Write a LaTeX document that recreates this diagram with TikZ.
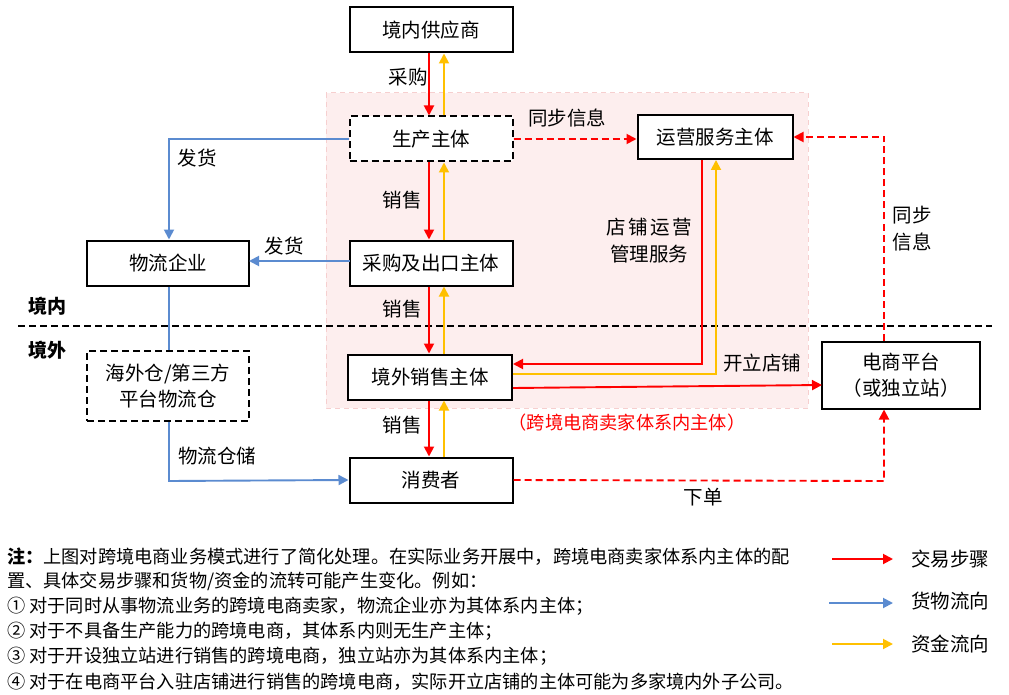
\documentclass[tikz,border=0pt]{standalone}
\usepackage{fontspec}
\setmainfont{Noto Sans CJK SC}
\usetikzlibrary{arrows.meta}
\definecolor{cred}{HTML}{FF0000}
\definecolor{cblue}{HTML}{5B8BD0}
\definecolor{cyel}{HTML}{FFC000}
\definecolor{cpink}{HTML}{FDEEEE}
\definecolor{cpinkb}{HTML}{F6CFCF}
\begin{document}
\begin{tikzpicture}[x=1pt,y=-1pt,
  box/.style={draw=black, line width=2pt, fill=white, inner sep=0pt,
    minimum width=163pt, minimum height=45pt, align=center,
    font=\fontsize{19.5}{26}\selectfont},
  dbox/.style={box, dash pattern=on 7pt off 4pt},
  lbl/.style={inner sep=1pt, font=\fontsize{19.5}{27}\selectfont, align=left},
  note/.style={anchor=west, inner sep=0pt, font=\fontsize{18.2}{20}\selectfont},
  tipx/.style={-{Triangle[length=10pt,width=10pt]}},
  rl/.style={draw=cred, line width=1.9pt},
  yl/.style={draw=cyel, line width=1.9pt},
  bl/.style={draw=cblue, line width=1.9pt},
  rd/.style={rl, dash pattern=on 7pt off 4pt},
]
\useasboundingbox (0,0) rectangle (1009,695);
% pink region
\fill[cpink] (326,93) rectangle (808,408);
\draw[cpinkb, line width=1pt, dash pattern=on 5pt off 4pt] (326,93) rectangle (808,408);
% border line
\draw[black, line width=2pt, dash pattern=on 7pt off 4pt] (18,326) -- (992,326);
\node[font=\bfseries\fontsize{19}{20}\selectfont] (dom) at (47,306) {境内};
\node[font=\bfseries\fontsize{19}{20}\selectfont] (abr) at (47,350) {境外};

% nodes
\node[box] (sup) at (431,30) {境内供应商};
\node[dbox] (prod) at (431,139) {生产主体};
\node[box] (exp) at (431,263) {采购及出口主体};
\node[box, minimum width=164pt] (sale) at (430,377) {境外销售主体};
\node[box] (cons) at (431,480) {消费者};
\node[box, minimum width=155pt, minimum height=44pt] (ops) at (715,137) {运营服务主体};
\node[box, minimum width=158pt, minimum height=67pt] (plat) at (901,375) {电商平台\\（或独立站）};
\node[box, minimum width=162pt] (log) at (168,263) {物流企业};
\node[dbox, minimum width=162pt, minimum height=70pt] (wh) at (168,386) {海外仓/第三方\\平台物流仓};

% coordinates
\coordinate (xr) at (429,0);
\coordinate (xy) at (444,0);
\coordinate (xb) at (169,0);
\coordinate (xo1) at (702,0);
\coordinate (xo2) at (716,0);
\coordinate (xp) at (884,0);

% central column
\draw[rl,tipx] (sup.south -| xr) -- (prod.north -| xr);
\draw[yl,tipx] (prod.north -| xy) -- (sup.south -| xy);
\draw[rl,tipx] (prod.south -| xr) -- (exp.north -| xr);
\draw[yl,tipx] (exp.north -| xy) -- (prod.south -| xy);
\draw[rl,tipx] (exp.south -| xr) -- (sale.north -| xr);
\draw[yl,tipx] (sale.north -| xy) -- (exp.south -| xy);
\draw[rl,tipx] (sale.south -| xr) -- (cons.north -| xr);
\draw[yl,tipx] (cons.north -| xy) -- (sale.south -| xy);

\node[lbl] (l1) at (408,77) {采购};
\node[lbl] (l2) at (402,200) {销售};
\node[lbl] (l3) at (402,309) {销售};
\node[lbl] (l4) at (402,425) {销售};

% prod -> ops
\draw[rd,tipx] (prod.east) -- (prod.east -| ops.west);
\node[lbl] (l5) at (567,118) {同步信息};

% ops <-> sale
\coordinate (c1) at (702,364);
\coordinate (c2) at (716,374);
\draw[rl,tipx] (ops.south -| xo1) -- (c1) -- (c1 -| sale.east);
\draw[yl,tipx] (c2 -| sale.east) -- (c2) -- (ops.south -| xo2);
\node[lbl, align=center] (l6) at (649,241) {店\hspace{2.5pt}铺\hspace{2.5pt}运\hspace{2.5pt}营\\管理服务};

% sale -> plat
\coordinate (c3) at (513,388);
\coordinate (c4) at (822,385);
\draw[rl,tipx] (c3) -- (c4);
\node[lbl] (l7) at (762,363) {开立店铺};

% plat -> ops
\coordinate (c5) at (884,137);
\draw[rd,tipx] (plat.north -| xp) -- (c5) -- (ops.east);
\node[lbl, align=left] (l8) at (912,229) {同步\\信息};

% cons -> plat
\coordinate (c6) at (884,481);
\draw[rd,tipx] (cons.east) -- (c6) -- (plat.south -| xp);
\node[lbl] (l9) at (703,497) {下单};

% blue
\coordinate (b1) at (169,139);
\draw[bl,tipx] (prod.west) -- (b1) -- (log.north -| xb);
\node[lbl] (l10) at (197,158) {发货};
\coordinate (b2) at (350,261);
\coordinate (b3) at (249,261);
\draw[bl,tipx] (b2) -- (b3);
\node[lbl] (l11) at (284,246) {发货};
\draw[bl] (log.south -| xb) -- (wh.north -| xb);
\coordinate (b4) at (169,481);
\draw[bl,tipx] (wh.south -| xb) -- (b4) -- (cons.west);
\node[lbl] (l12) at (217,456) {物流仓储};

\node[lbl, text=cred, font=\fontsize{18.2}{20}\selectfont] (grp) at (627,423) {（跨境电商卖家体系内主体）};

% notes
\node[note] (n1) at (7,557) {\textbf{注：}上图对跨境电商业务模式进行了简化处理。在实际业务开展中，跨境电商卖家体系内主体的配};
\node[note] (n2) at (7,581) {置、具体交易步骤和货物/资金的流转可能产生变化。例如：};
\node[note] (n3) at (7,606) {① 对于同时从事物流业务的跨境电商卖家，物流企业亦为其体系内主体；};
\node[note] (n4) at (7,631) {② 对于不具备生产能力的跨境电商，其体系内则无生产主体；};
\node[note] (n5) at (7,656) {③ 对于开设独立站进行销售的跨境电商，独立站亦为其体系内主体；};
\node[note] (n6) at (7,682) {④ 对于在电商平台入驻店铺进行销售的跨境电商，实际开立店铺的主体可能为多家境内外子公司。};

% legend
\coordinate (g1a) at (832,559); \coordinate (g1b) at (893,559);
\coordinate (g2a) at (829,603); \coordinate (g2b) at (893,603);
\coordinate (g3a) at (832,644); \coordinate (g3b) at (893,644);
\draw[rl,tipx] (g1a) -- (g1b);
\draw[bl,tipx] (g2a) -- (g2b);
\draw[yl,tipx] (g3a) -- (g3b);
\node[lbl] (k1) at (950,559) {交易步骤};
\node[lbl] (k2) at (950,601) {货物流向};
\node[lbl] (k3) at (950,644) {资金流向};
\end{tikzpicture}
\end{document}
